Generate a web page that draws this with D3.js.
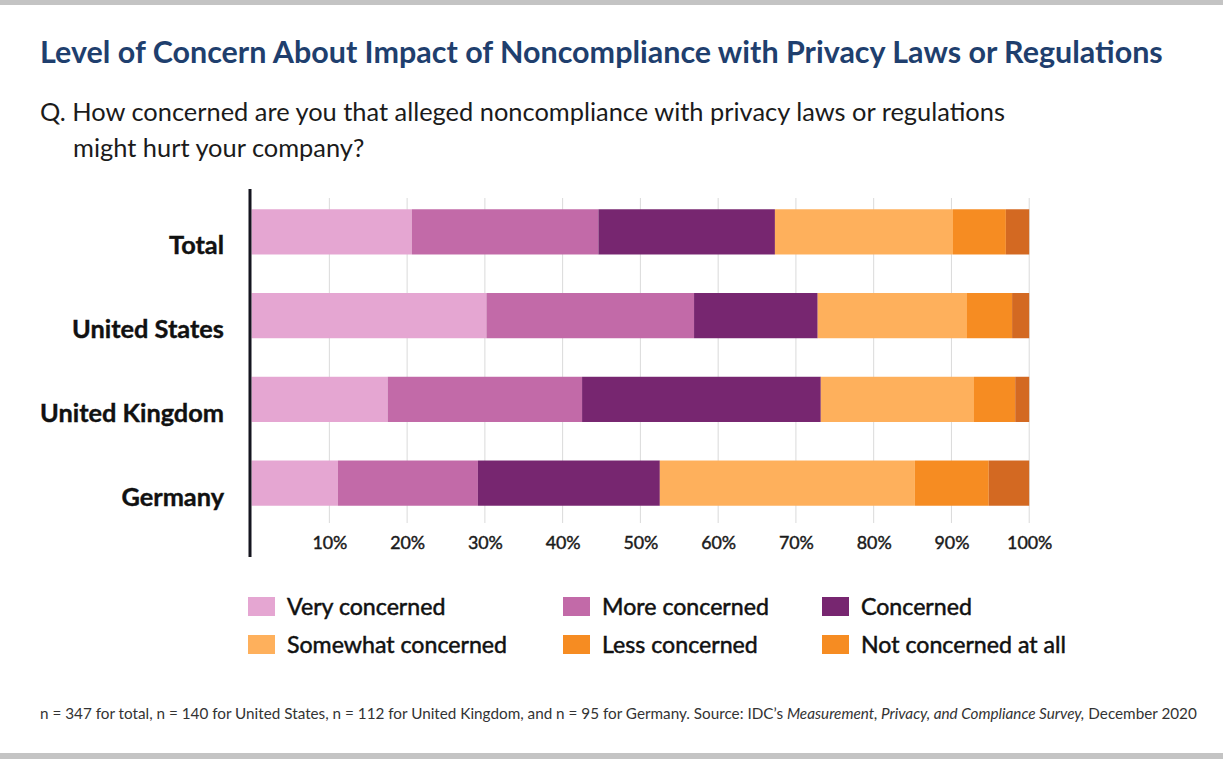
<!DOCTYPE html>
<html>
<head>
<meta charset="utf-8">
<script src="https://cdn.jsdelivr.net/npm/d3@7"></script>
<style>
  body { margin: 0; background: #fff; }
  text { font-family: Lato, "Open Sans", sans-serif; }
</style>
</head>
<body>
<script>
// shares (%), one array per concern level
const countries = ['Total', 'United States', 'United Kingdom', 'Germany']
const levels = ['Very concerned', 'More concerned', 'Concerned', 'Somewhat concerned', 'Less concerned', 'Not concerned at all']
const veryConcerned = [20.6, 30.2, 17.5, 11.1]
const moreConcerned = [24.0, 26.7, 25.0, 18.0]
const concerned = [22.7, 15.9, 30.7, 23.4]
const somewhatConcerned = [22.9, 19.2, 19.7, 32.8]
const lessConcerned = [6.8, 5.8, 5.3, 9.5]
const notConcerned = [3.0, 2.2, 1.8, 5.2]
const ticks = [10, 20, 30, 40, 50, 60, 70, 80, 90, 100]

const barColors = ['#E5A6D2', '#C26AA8', '#772670', '#FEB05C', '#F68C22', '#D36922']
// the legend in the original shows the last swatch in the lighter orange
const legendColors = ['#E5A6D2', '#C26AA8', '#772670', '#FEB05C', '#F68C22', '#F68C22']

const width = 1223
const height = 759

const table = countries.map((c, i) => ({
  country: c,
  'Very concerned': veryConcerned[i],
  'More concerned': moreConcerned[i],
  'Concerned': concerned[i],
  'Somewhat concerned': somewhatConcerned[i],
  'Less concerned': lessConcerned[i],
  'Not concerned at all': notConcerned[i]
}))
const series = d3.stack().keys(levels)(table)

const svg = d3.select('body').append('svg')
  .attr('width', width)
  .attr('height', height)

// scale the font so a text spans a given width
const fit = (sel, target) => {
  const fs = parseFloat(sel.attr('font-size'))
  const w = sel.node().getComputedTextLength()
  sel.attr('font-size', (fs * target / w).toFixed(2))
  return sel
}

// grey bands top and bottom
svg.append('rect').attr('x', 0).attr('y', 0).attr('width', width).attr('height', 5).attr('fill', '#c4c4c4')
svg.append('rect').attr('x', 0).attr('y', 753).attr('width', width).attr('height', 6).attr('fill', '#c4c4c4')

svg.append('text')
  .attr('x', 40).attr('y', 63)
  .attr('font-size', 26).attr('font-weight', 700).attr('fill', '#1F3F6E')
  .text('Level of Concern About Impact of Noncompliance with Privacy Laws or Regulations')
  .call(fit, 1123)

const sub1 = svg.append('text')
  .attr('x', 40).attr('y', 121)
  .attr('font-size', 21).attr('fill', '#1b1b1b')
  .text('Q. How concerned are you that alleged noncompliance with privacy laws or regulations')
  .call(fit, 965)
svg.append('text')
  .attr('x', 73).attr('y', 157)
  .attr('font-size', sub1.attr('font-size'))
  .attr('fill', '#1b1b1b')
  .text('might hurt your company?')

const x = d3.scaleLinear().domain([0, 100]).range([251.6, 1029.2])
const y = d3.scaleBand().domain(countries).range([190, 525]).paddingInner(0.46).paddingOuter(0.23)

// gridlines
svg.append('g')
  .selectAll('line')
  .data(ticks)
  .join('line')
  .attr('x1', d => x(d)).attr('x2', d => x(d))
  .attr('y1', 198).attr('y2', 523)
  .attr('stroke', '#dadada').attr('stroke-width', 1)

// bars
svg.append('g')
  .selectAll('g')
  .data(series)
  .join('g')
  .attr('fill', (d, i) => barColors[i])
  .selectAll('rect')
  .data(d => d)
  .join('rect')
  .attr('x', d => x(d[0]))
  .attr('width', d => x(d[1]) - x(d[0]))
  .attr('y', d => y(d.data.country))
  .attr('height', y.bandwidth())

// x axis labels
const xAxis = svg.append('g')
  .attr('transform', 'translate(0,549)')
  .call(d3.axisBottom(x).tickValues(ticks).tickFormat(d => d + '%').tickSize(0).tickPadding(0))
xAxis.select('.domain').remove()
xAxis.selectAll('text')
  .attr('dy', 0)
  .attr('font-size', 17)
  .attr('font-family', 'Lato, sans-serif')
  .attr('fill', '#1b1b1b')
  .attr('stroke', '#1b1b1b').attr('stroke-width', 0.45)
const tenLabel = xAxis.selectAll('text').filter(d => d === 10)
fit(tenLabel, 35)
xAxis.selectAll('text').attr('font-size', tenLabel.attr('font-size'))

// category labels
const yAxis = svg.append('g')
  .attr('transform', 'translate(224,0)')
  .call(d3.axisLeft(y).tickSize(0).tickPadding(0))
yAxis.select('.domain').remove()
yAxis.selectAll('.tick')
  .attr('transform', d => `translate(0,${y(d) + y.bandwidth()})`)
yAxis.selectAll('text')
  .attr('dy', 0)
  .attr('font-size', 22)
  .attr('font-weight', 700)
  .attr('font-family', 'Lato, sans-serif')
  .attr('fill', '#111')
  .attr('stroke', '#111').attr('stroke-width', 0.4)
const ukLabel = yAxis.selectAll('text').filter(d => d === 'United Kingdom')
fit(ukLabel, 184)
yAxis.selectAll('text').attr('font-size', ukLabel.attr('font-size'))

// vertical axis line
svg.append('line')
  .attr('x1', 250).attr('x2', 250)
  .attr('y1', 189).attr('y2', 557)
  .attr('stroke', '#15151f').attr('stroke-width', 3)

// legend
const legendX = [248, 563, 822]
const legendY = [597, 635]
const legend = svg.append('g')
  .selectAll('g')
  .data(levels)
  .join('g')
  .attr('transform', (d, i) => `translate(${legendX[i % 3]},${legendY[Math.floor(i / 3)]})`)
legend.append('rect')
  .attr('width', 27).attr('height', 19)
  .attr('fill', (d, i) => legendColors[i])
legend.append('text')
  .attr('x', 39).attr('y', 18)
  .attr('font-size', 20)
  .attr('fill', '#111')
  .attr('stroke', '#111').attr('stroke-width', 0.5)
  .text(d => d)
const lastLabel = legend.filter(d => d === 'Not concerned at all').select('text')
fit(lastLabel, 205)
legend.selectAll('text').attr('font-size', lastLabel.attr('font-size'))

// footnote
const foot = svg.append('text')
  .attr('x', 40).attr('y', 719)
  .attr('font-size', 14).attr('fill', '#333')
foot.append('tspan').text('n = 347 for total, n = 140 for United States, n = 112 for United Kingdom, and n = 95 for Germany. Source: IDC\u2019s ')
foot.append('tspan').attr('font-style', 'italic').text('Measurement, Privacy, and Compliance Survey,')
foot.append('tspan').text(' December 2020')
fit(foot, 1157)
</script>
</body>
</html>
